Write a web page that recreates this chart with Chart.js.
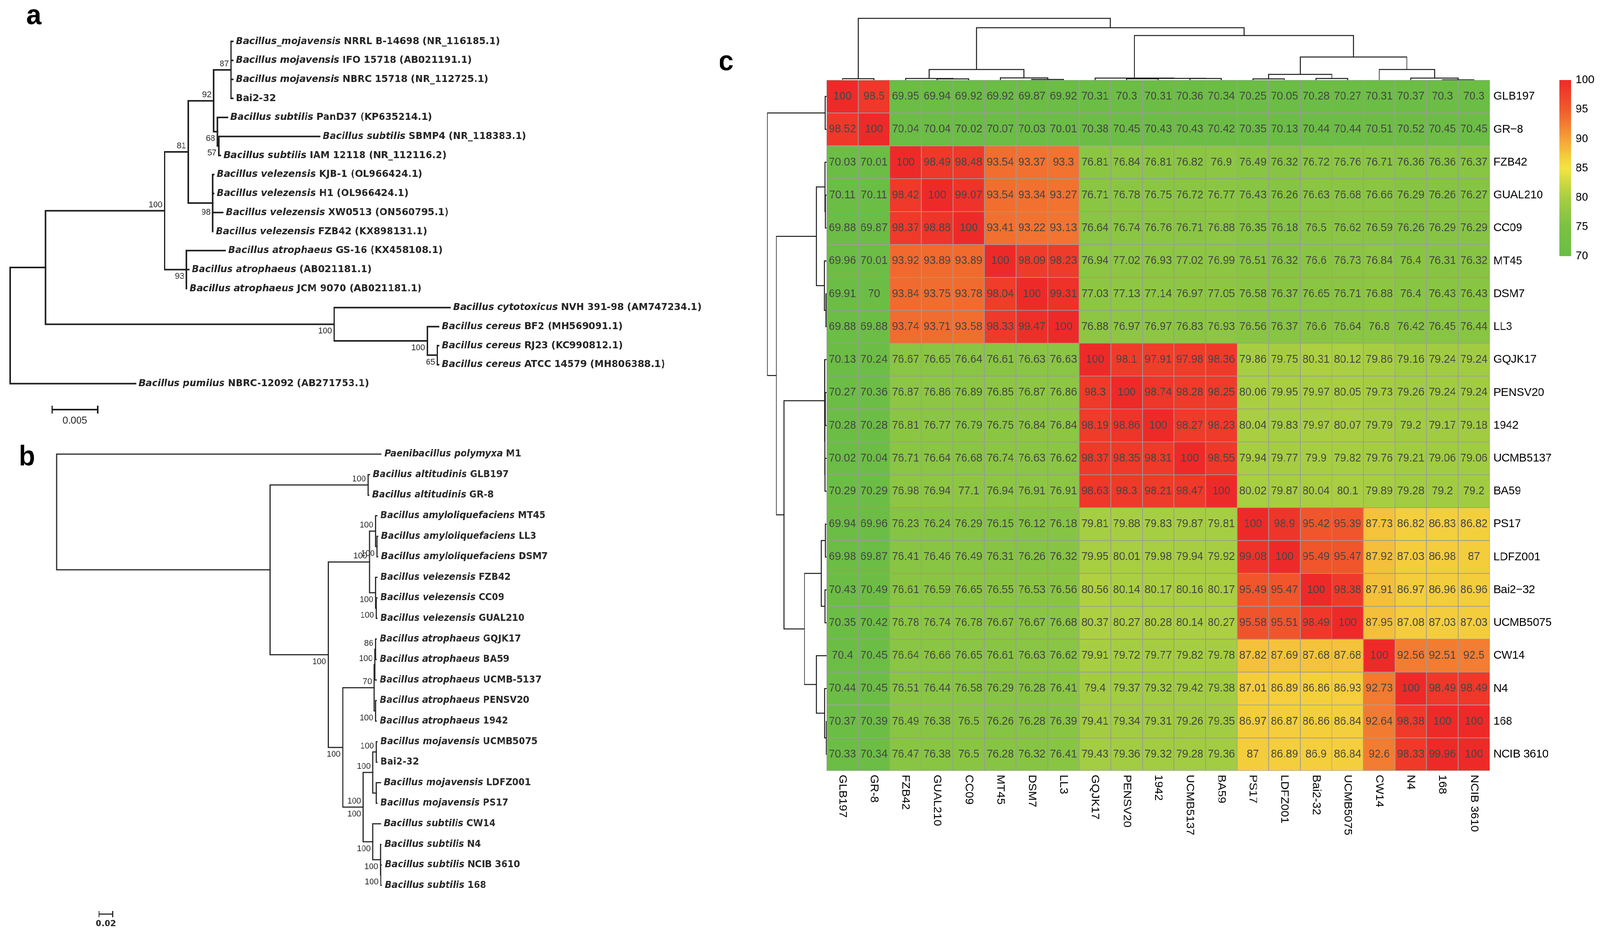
<!DOCTYPE html>
<html>
<head>
<meta charset="utf-8">
<script src="https://cdn.jsdelivr.net/npm/chart.js@4.4.1/dist/chart.umd.min.js"></script>
<style>
  html, body { margin: 0; padding: 0; background: #fff; overflow: hidden; }
  #page { width: 4266px; height: 2392px; position: relative; transform-origin: 0 0; }
  canvas { position: absolute; }
</style>
</head>
<body>
<div id="page">
<canvas id="tree-a" style="left:0;top:0" width="1950" height="1100"></canvas>
<canvas id="tree-b" style="left:0;top:1110px" width="1950" height="1282"></canvas>
<canvas id="heat" style="left:1900px;top:0" width="2366" height="2392"></canvas>
<canvas id="dendro-top" style="left:2204px;top:30px" width="1768" height="175"></canvas>
<canvas id="dendro-left" style="left:2030px;top:205px" width="174" height="1769"></canvas>
<canvas id="legend" style="left:4150px;top:150px" width="116" height="570"></canvas>
</div>
<script>
// ---------- data ----------
// panel a : 16S tree, leaves in drawing order [species (italic), strain]
const treeALeaves = [
  ['Bacillus_mojavensis', 'NRRL B-14698 (NR_116185.1)'],
  ['Bacillus mojavensis', 'IFO 15718 (AB021191.1)'],
  ['Bacillus mojavensis', 'NBRC 15718 (NR_112725.1)'],
  ['', 'Bai2-32'],
  ['Bacillus subtilis', 'PanD37 (KP635214.1)'],
  ['Bacillus subtilis', 'SBMP4 (NR_118383.1)'],
  ['Bacillus subtilis', 'IAM 12118 (NR_112116.2)'],
  ['Bacillus velezensis', 'KJB-1 (OL966424.1)'],
  ['Bacillus velezensis', 'H1 (OL966424.1)'],
  ['Bacillus velezensis', 'XW0513 (ON560795.1)'],
  ['Bacillus velezensis', 'FZB42 (KX898131.1)'],
  ['Bacillus atrophaeus', 'GS-16 (KX458108.1)'],
  ['Bacillus atrophaeus', '(AB021181.1)'],
  ['Bacillus atrophaeus', 'JCM 9070 (AB021181.1)'],
  ['Bacillus cytotoxicus', 'NVH 391-98 (AM747234.1)'],
  ['Bacillus cereus', 'BF2 (MH569091.1)'],
  ['Bacillus cereus', 'RJ23 (KC990812.1)'],
  ['Bacillus cereus', 'ATCC 14579 (MH806388.1)'],
  ['Bacillus pumilus', 'NBRC-12092 (AB271753.1)']
];
// newick with leaf index, bootstrap and branch length (substitutions/site)
const treeANewick = '((((((0:0.0002,1:0.0002,2:0.0002,3:0.0002)87:0.0019,(4:0.0011,(5:0.0111,6:0.0002)57:0.00015)68:0.0004)92:0.0028,(7:0.0001,8:0.0001,9/98:0.0011,10:0):0.0027)81:0.0026,(11:0.00425,12:0.00025,13:0)93:0.0024)100:0.0131,(14:0.01275,(15:0.00125,(16:0.00015,17:0.00015)65:0.0011)100:0.01025)100:0.03175):0.0039,18:0.0138);';
const scaleBarA = 0.005;

// panel b : genome tree
const treeBLeaves = [
  ['Paenibacillus polymyxa', 'M1'],
  ['Bacillus altitudinis', 'GLB197'],
  ['Bacillus altitudinis', 'GR-8'],
  ['Bacillus amyloliquefaciens', 'MT45'],
  ['Bacillus amyloliquefaciens', 'LL3'],
  ['Bacillus amyloliquefaciens', 'DSM7'],
  ['Bacillus velezensis', 'FZB42'],
  ['Bacillus velezensis', 'CC09'],
  ['Bacillus velezensis', 'GUAL210'],
  ['Bacillus atrophaeus', 'GQJK17'],
  ['Bacillus atrophaeus', 'BA59'],
  ['Bacillus atrophaeus', 'UCMB-5137'],
  ['Bacillus atrophaeus', 'PENSV20'],
  ['Bacillus atrophaeus', '1942'],
  ['Bacillus mojavensis', 'UCMB5075'],
  ['', 'Bai2-32'],
  ['Bacillus mojavensis', 'LDFZ001'],
  ['Bacillus mojavensis', 'PS17'],
  ['Bacillus subtilis', 'CW14'],
  ['Bacillus subtilis', 'N4'],
  ['Bacillus subtilis', 'NCIB 3610'],
  ['Bacillus subtilis', '168']
];
const treeBNewick = '(0:0.474,((1:0.002,2:0.001)100:0.143,(((3:0.002,(4:0.001,5:0.001)100:0.002)100:0.009,(6:0.002,(7:0.001,8:0.001)100:0.001)100:0.009)100:0.060,((((9:0.001,10:0.001)86:0.001,11:0.002)100:0.001,(12:0.001,13:0.001)100:0.002)70:0.046,(((14:0.001,15:0.001)100:0.005,(16:0.006,17:0.001):0.005)100:0.014,(18:0.011,(19:0.001,(20:0.001,21:0.001)100:0.0005)100:0.011)100:0.014)100|100:0.030)100:0.021)100:0.085):0.312);';
const scaleBarB = 0.02;

// panel c : ANI heatmap
const strains = ['GLB197', 'GR-8', 'FZB42', 'GUAL210', 'CC09', 'MT45', 'DSM7', 'LL3', 'GQJK17', 'PENSV20', '1942',
  'UCMB5137', 'BA59', 'PS17', 'LDFZ001', 'Bai2-32', 'UCMB5075', 'CW14', 'N4', '168', 'NCIB 3610'];
const rowLabels = ['GLB197', 'GR\u22128', 'FZB42', 'GUAL210', 'CC09', 'MT45', 'DSM7', 'LL3', 'GQJK17', 'PENSV20', '1942',
  'UCMB5137', 'BA59', 'PS17', 'LDFZ001', 'Bai2\u221232', 'UCMB5075', 'CW14', 'N4', '168', 'NCIB 3610'];
const aniValues = [
  [100, 98.5, 69.95, 69.94, 69.92, 69.92, 69.87, 69.92, 70.31, 70.3, 70.31, 70.36, 70.34, 70.25, 70.05, 70.28, 70.27, 70.31, 70.37, 70.3, 70.3],
  [98.52, 100, 70.04, 70.04, 70.02, 70.07, 70.03, 70.01, 70.38, 70.45, 70.43, 70.43, 70.42, 70.35, 70.13, 70.44, 70.44, 70.51, 70.52, 70.45, 70.45],
  [70.03, 70.01, 100, 98.49, 98.48, 93.54, 93.37, 93.3, 76.81, 76.84, 76.81, 76.82, 76.9, 76.49, 76.32, 76.72, 76.76, 76.71, 76.36, 76.36, 76.37],
  [70.11, 70.11, 98.42, 100, 99.07, 93.54, 93.34, 93.27, 76.71, 76.78, 76.75, 76.72, 76.77, 76.43, 76.26, 76.63, 76.68, 76.66, 76.29, 76.26, 76.27],
  [69.88, 69.87, 98.37, 98.88, 100, 93.41, 93.22, 93.13, 76.64, 76.74, 76.76, 76.71, 76.88, 76.35, 76.18, 76.5, 76.62, 76.59, 76.26, 76.29, 76.29],
  [69.96, 70.01, 93.92, 93.89, 93.89, 100, 98.09, 98.23, 76.94, 77.02, 76.93, 77.02, 76.99, 76.51, 76.32, 76.6, 76.73, 76.84, 76.4, 76.31, 76.32],
  [69.91, 70, 93.84, 93.75, 93.78, 98.04, 100, 99.31, 77.03, 77.13, 77.14, 76.97, 77.05, 76.58, 76.37, 76.65, 76.71, 76.88, 76.4, 76.43, 76.43],
  [69.88, 69.88, 93.74, 93.71, 93.58, 98.33, 99.47, 100, 76.88, 76.97, 76.97, 76.83, 76.93, 76.56, 76.37, 76.6, 76.64, 76.8, 76.42, 76.45, 76.44],
  [70.13, 70.24, 76.67, 76.65, 76.64, 76.61, 76.63, 76.63, 100, 98.1, 97.91, 97.98, 98.36, 79.86, 79.75, 80.31, 80.12, 79.86, 79.16, 79.24, 79.24],
  [70.27, 70.36, 76.87, 76.86, 76.89, 76.85, 76.87, 76.86, 98.3, 100, 98.74, 98.28, 98.25, 80.06, 79.95, 79.97, 80.05, 79.73, 79.26, 79.24, 79.24],
  [70.28, 70.28, 76.81, 76.77, 76.79, 76.75, 76.84, 76.84, 98.19, 98.86, 100, 98.27, 98.23, 80.04, 79.83, 79.97, 80.07, 79.79, 79.2, 79.17, 79.18],
  [70.02, 70.04, 76.71, 76.64, 76.68, 76.74, 76.63, 76.62, 98.37, 98.35, 98.31, 100, 98.55, 79.94, 79.77, 79.9, 79.82, 79.76, 79.21, 79.06, 79.06],
  [70.29, 70.29, 76.98, 76.94, 77.1, 76.94, 76.91, 76.91, 98.63, 98.3, 98.21, 98.47, 100, 80.02, 79.87, 80.04, 80.1, 79.89, 79.28, 79.2, 79.2],
  [69.94, 69.96, 76.23, 76.24, 76.29, 76.15, 76.12, 76.18, 79.81, 79.88, 79.83, 79.87, 79.81, 100, 98.9, 95.42, 95.39, 87.73, 86.82, 86.83, 86.82],
  [69.98, 69.87, 76.41, 76.46, 76.49, 76.31, 76.26, 76.32, 79.95, 80.01, 79.98, 79.94, 79.92, 99.08, 100, 95.49, 95.47, 87.92, 87.03, 86.98, 87],
  [70.43, 70.49, 76.61, 76.59, 76.65, 76.55, 76.53, 76.56, 80.56, 80.14, 80.17, 80.16, 80.17, 95.49, 95.47, 100, 98.38, 87.91, 86.97, 86.96, 86.96],
  [70.35, 70.42, 76.78, 76.74, 76.78, 76.67, 76.67, 76.68, 80.37, 80.27, 80.28, 80.14, 80.27, 95.58, 95.51, 98.49, 100, 87.95, 87.08, 87.03, 87.03],
  [70.4, 70.45, 76.64, 76.66, 76.65, 76.61, 76.63, 76.62, 79.91, 79.72, 79.77, 79.82, 79.78, 87.82, 87.69, 87.68, 87.68, 100, 92.56, 92.51, 92.5],
  [70.44, 70.45, 76.51, 76.44, 76.58, 76.29, 76.28, 76.41, 79.4, 79.37, 79.32, 79.42, 79.38, 87.01, 86.89, 86.86, 86.93, 92.73, 100, 98.49, 98.49],
  [70.37, 70.39, 76.49, 76.38, 76.5, 76.26, 76.28, 76.39, 79.41, 79.34, 79.31, 79.26, 79.35, 86.97, 86.87, 86.86, 86.84, 92.64, 98.38, 100, 100],
  [70.33, 70.34, 76.47, 76.38, 76.5, 76.28, 76.32, 76.41, 79.43, 79.36, 79.32, 79.28, 79.36, 87, 86.89, 86.9, 86.84, 92.6, 98.33, 99.96, 100]
];
// hierarchical clustering of the matrix: [merge height, left, right]
const clusterMerge = [158,
  [3.5, 'GLB197', 'GR-8'],
  [134,
    [27, [4, 'FZB42', [3, 'GUAL210', 'CC09']], [5.5, 'MT45', [1.5, 'DSM7', 'LL3']]],
    [114,
      [5, 'GQJK17', [4.3, [3.3, 'PENSV20', '1942'], [4, 'UCMB5137', 'BA59']]],
      [59,
        [14.5, [3, 'PS17', 'LDFZ001'], [4, 'Bai2-32', 'UCMB5075']],
        [27, 'CW14', [5, 'N4', [0.5, '168', 'NCIB 3610']]]]]]];
const colourStops = [70, 75, 80, 85, 87, 90, 95, 100];
const colourHex = ['#6bbd45', '#7bc143', '#a8ce42', '#f2e443', '#f4cd3c', '#f5a037', '#f05a2c', '#ee2a29'];
const legendRange = [70, 100];
const legendStep = 5;

// the page is laid out at 4266 x 2392 and squeezed into whatever viewport we get
const page = document.getElementById('page');
page.style.transform = `scale(${Math.min(1, window.innerWidth / 4266)}, ${Math.min(1, window.innerHeight / 2392)})`;

// ---------- helpers ----------
Chart.defaults.font.family = '"Liberation Sans", Arial, sans-serif';
Chart.defaults.animation = false;

function parseNewick(s) {
  let i = 0;
  function node() {
    const n = { children: [] };
    if (s[i] === '(') {
      i++;
      n.children.push(node());
      while (s[i] === ',') { i++; n.children.push(node()); }
      i++;
    }
    let lab = '';
    while (i < s.length && !',):;'.includes(s[i])) lab += s[i++];
    n.len = 0;
    if (s[i] === ':') {
      i++;
      let num = '';
      while (i < s.length && !',);'.includes(s[i])) num += s[i++];
      n.len = parseFloat(num);
    }
    if (n.children.length) n.support = lab || null;
    else { const p = lab.split('/'); n.leaf = +p[0]; n.support = p[1] || null; }
    return n;
  }
  return node();
}

function layoutTree(root) {
  const nodes = [];
  let k = 0;
  (function walk(n, px, parent) {
    n.parent = parent;
    n.x = parent ? px + n.len : 0;
    n.children.forEach(c => walk(c, n.x, n));
    if (!n.children.length) n.y = k++;
    else n.y = (n.children[0].y + n.children[n.children.length - 1].y) / 2;
    nodes.push(n);
  })(root, 0, null);
  return nodes;
}

function hexToRgb(h) { return [1, 3, 5].map(i => parseInt(h.substr(i, 2), 16)); }
function heatColour(v) {
  let i = 0;
  while (i < colourStops.length - 2 && v > colourStops[i + 1]) i++;
  const t = Math.max(0, Math.min(1, (v - colourStops[i]) / (colourStops[i + 1] - colourStops[i])));
  const a = hexToRgb(colourHex[i]), b = hexToRgb(colourHex[i + 1]);
  return 'rgb(' + a.map((c, j) => Math.round(c + (b[j] - c) * t)).join(',') + ')';
}

const baseOpts = {
  responsive: false,
  devicePixelRatio: 1,
  events: [],
  plugins: { legend: { display: false }, tooltip: { enabled: false } }
};

// ---------- trees (a, b) ----------
function drawTree(id, newick, leaves, o) {
  const nodes = layoutTree(parseNewick(newick));
  const datasets = [];
  const seg = pts => datasets.push({
    data: pts, showLine: true, pointRadius: 0, borderColor: o.line, borderWidth: o.lineWidth,
    borderCapStyle: 'square', borderJoinStyle: 'miter', fill: false
  });
  nodes.forEach(n => {
    if (!n.children.length) return;
    const f = n.children[0], l = n.children[n.children.length - 1];
    seg([{ x: f.x, y: f.y }, { x: n.x, y: f.y }, { x: n.x, y: l.y }, { x: l.x, y: l.y }]);
    n.children.slice(1, -1).forEach(c => seg([{ x: n.x, y: c.y }, { x: c.x, y: c.y }]));
  });
  const canvas = document.getElementById(id);
  const W = canvas.width, H = canvas.height;
  new Chart(canvas, {
    type: 'scatter',
    data: { datasets },
    options: {
      ...baseOpts,
      scales: {
        x: { type: 'linear', display: false, min: -o.rootX / o.pxPerUnit, max: (W - o.rootX) / o.pxPerUnit },
        y: { type: 'linear', display: false, reverse: true, min: -o.firstY / o.rowGap, max: (H - o.firstY) / o.rowGap }
      }
    },
    plugins: [{
      id: 'treeText',
      afterDatasetsDraw(chart) {
        const { ctx } = chart;
        const xs = chart.scales.x, ys = chart.scales.y;
        ctx.save();
        ctx.fillStyle = o.text;
        nodes.forEach(n => {
          const nx = xs.getPixelForValue(n.x), ny = ys.getPixelForValue(n.y);
          if (!n.children.length) {
            const [sp, strain] = leaves[n.leaf];
            let tx = nx + o.labelGap;
            ctx.textAlign = 'left';
            ctx.textBaseline = 'middle';
            if (sp) {
              ctx.font = `italic bold ${o.size}px ${o.family}`;
              ctx.fillText(sp, tx, ny);
              tx += ctx.measureText(sp + ' ').width;
            }
            ctx.font = `bold ${o.size}px ${o.family}`;
            ctx.fillText(strain, tx, ny);
          }
          if (n.support && n.parent) {
            ctx.font = `${o.supSize}px "Liberation Sans", Arial, sans-serif`;
            ctx.textAlign = 'right';
            const parts = n.support.split('|');
            const sib = n.parent.children, idx = sib.indexOf(n);
            const above = t => { ctx.textBaseline = 'alphabetic'; ctx.fillText(t, nx - 6, ny - 9); };
            const below = t => { ctx.textBaseline = 'alphabetic'; ctx.fillText(t, nx - 6, ny + 24); };
            if (parts.length > 1) { above(parts[0]); below(parts[1]); }
            else if (idx === 0) above(parts[0]);
            else if (idx === sib.length - 1) below(parts[0]);
            else {
              ctx.textBaseline = 'middle';
              ctx.fillText(parts[0], xs.getPixelForValue(n.parent.x) - 6, ny);
            }
          }
        });
        // scale bar
        const len = xs.getPixelForValue(o.bar) - xs.getPixelForValue(0);
        const [bx, by] = o.barAt;
        ctx.strokeStyle = o.line;
        ctx.lineWidth = o.lineWidth;
        ctx.beginPath();
        ctx.moveTo(bx, by); ctx.lineTo(bx + len, by);
        ctx.moveTo(bx, by - o.barTick); ctx.lineTo(bx, by + o.barTick);
        ctx.moveTo(bx + len, by - o.barTick); ctx.lineTo(bx + len, by + o.barTick);
        ctx.stroke();
        ctx.font = o.barFont;
        ctx.textAlign = 'center';
        ctx.textBaseline = 'top';
        ctx.fillText(String(o.bar), bx + len / 2, by + o.barTick + 6);
        // panel letter
        ctx.fillStyle = '#000';
        ctx.font = 'bold 72px "Liberation Sans", Arial, sans-serif';
        ctx.textAlign = 'left';
        ctx.textBaseline = 'alphabetic';
        ctx.fillText(o.panel, o.panelAt[0], o.panelAt[1]);
        ctx.restore();
      }
    }]
  });
}

drawTree('tree-a', treeANewick, treeALeaves, {
  rootX: 27, pxPerUnit: 24234, firstY: 106, rowGap: 48.7,
  line: '#1e1e1e', lineWidth: 4, text: '#262626', size: 25, family: '"DejaVu Sans", Verdana, sans-serif',
  labelGap: 8, supSize: 22, bar: scaleBarA, barAt: [139, 1049], barTick: 10,
  barFont: '26px "Liberation Sans", Arial, sans-serif', panel: 'a', panelAt: [70, 62]
});
drawTree('tree-b', treeBNewick, treeBLeaves, {
  rootX: 151, pxPerUnit: 1825, firstY: 53, rowGap: 52.6,
  line: '#2a2a2a', lineWidth: 3, text: '#2a2a2a', size: 24, family: '"DejaVu Sans", Verdana, sans-serif',
  labelGap: 9, supSize: 22, bar: scaleBarB, barAt: [264, 1231], barTick: 8,
  barFont: 'bold 22px "DejaVu Sans", Verdana, sans-serif', panel: 'b', panelAt: [50, 82]
});

// ---------- heatmap (c) ----------
new Chart(document.getElementById('heat'), {
  type: 'bar',
  data: {
    labels: strains,
    datasets: aniValues.map((row, r) => ({
      label: rowLabels[r],
      data: row.map(() => [r, r + 1]),
      backgroundColor: row.map(v => heatColour(v))
    }))
  },
  options: {
    ...baseOpts,
    layout: { padding: { left: 304, top: 205, right: 294, bottom: 418 } },
    datasets: { bar: { grouped: false, barPercentage: 1, categoryPercentage: 1, borderWidth: 1.3, borderColor: '#9a9a9a', borderSkipped: false } },
    scales: {
      x: { type: 'category', display: false, offset: true },
      y: { type: 'linear', display: false, min: 0, max: strains.length, reverse: true }
    }
  },
  plugins: [{
    id: 'heatText',
    afterDatasetsDraw(chart) {
      const { ctx, chartArea } = chart;
      const xs = chart.scales.x, ys = chart.scales.y;
      ctx.save();
      ctx.font = '29px "Liberation Sans", Arial, sans-serif';
      ctx.fillStyle = '#464646';
      ctx.textAlign = 'center';
      ctx.textBaseline = 'middle';
      aniValues.forEach((row, r) => row.forEach((v, c) => {
        ctx.fillText(String(v), xs.getPixelForValue(c), ys.getPixelForValue(r + 0.5));
      }));
      ctx.font = '30px "Liberation Sans", Arial, sans-serif';
      ctx.fillStyle = '#000';
      ctx.textAlign = 'left';
      rowLabels.forEach((t, r) => ctx.fillText(t, chartArea.right + 10, ys.getPixelForValue(r + 0.5)));
      strains.forEach((t, c) => {
        ctx.save();
        ctx.translate(xs.getPixelForValue(c), chartArea.bottom + 10);
        ctx.rotate(Math.PI / 2);
        ctx.fillText(t, 0, 0);
        ctx.restore();
      });
      ctx.font = 'bold 72px "Liberation Sans", Arial, sans-serif';
      ctx.fillText('c', 16, 160);
      ctx.restore();
    }
  }]
});

// ---------- dendrograms ----------
function dendroSegments(node, out) {
  if (typeof node === 'string') return { c: strains.indexOf(node) + 0.5, h: 0 };
  const [h, a, b] = node;
  const L = dendroSegments(a, out), R = dendroSegments(b, out);
  out.push([[L.c, L.h], [L.c, h], [R.c, h], [R.c, R.h]]);
  return { c: (L.c + R.c) / 2, h };
}
const dendroSegs = [];
dendroSegments(clusterMerge, dendroSegs);
const dendroStyle = { showLine: true, pointRadius: 0, borderColor: '#1a1a1a', borderWidth: 2.5, borderJoinStyle: 'miter', fill: false };

const topCanvas = document.getElementById('dendro-top');
new Chart(topCanvas, {
  type: 'scatter',
  data: { datasets: dendroSegs.map(s => ({ ...dendroStyle, data: s.map(([c, h]) => ({ x: c, y: h })) })) },
  options: {
    ...baseOpts,
    scales: {
      x: { type: 'linear', display: false, min: 0, max: strains.length },
      y: { type: 'linear', display: false, min: 0, max: topCanvas.height }
    }
  }
});
const leftCanvas = document.getElementById('dendro-left');
new Chart(leftCanvas, {
  type: 'scatter',
  data: { datasets: dendroSegs.map(s => ({ ...dendroStyle, data: s.map(([c, h]) => ({ x: h, y: c })) })) },
  options: {
    ...baseOpts,
    scales: {
      x: { type: 'linear', display: false, min: 0, max: leftCanvas.width, reverse: true },
      y: { type: 'linear', display: false, min: 0, max: strains.length, reverse: true }
    }
  }
});

// ---------- colour key ----------
new Chart(document.getElementById('legend'), {
  type: 'bar',
  data: {
    labels: [''],
    datasets: [{
      data: [legendRange],
      borderWidth: 0,
      barPercentage: 1,
      categoryPercentage: 1,
      backgroundColor: (c) => {
        const { ctx, chartArea, scales } = c.chart;
        if (!chartArea) return colourHex[0];
        const y0 = scales.y.getPixelForValue(legendRange[0]), y1 = scales.y.getPixelForValue(legendRange[1]);
        const g = ctx.createLinearGradient(0, y0, 0, y1);
        colourStops.forEach((v, i) => g.addColorStop((v - legendRange[0]) / (legendRange[1] - legendRange[0]), colourHex[i]));
        return g;
      }
    }]
  },
  options: {
    ...baseOpts,
    layout: { padding: { left: 8, top: 55, bottom: 64, right: 0 } },
    scales: {
      x: { display: false },
      y: {
        position: 'right', min: legendRange[0], max: legendRange[1],
        ticks: { stepSize: legendStep, padding: 12, color: '#000', font: { size: 30 } },
        grid: { display: false, drawTicks: false },
        border: { display: false },
        afterFit: s => { s.width = 77; }
      }
    }
  }
});
</script>
</body>
</html>
